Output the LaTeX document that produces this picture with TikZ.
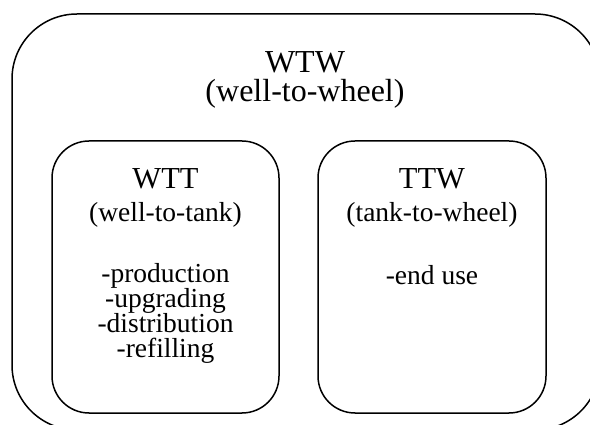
\documentclass[tikz,border=0pt]{standalone}
\usepackage{fontspec}
\setmainfont{Liberation Serif}
\begin{document}
\begin{tikzpicture}[x=1pt,y=-1pt,
  frame/.style={draw=black,line width=1.5pt,rounded corners=65pt},
  box/.style={draw=black,line width=1.5pt,rounded corners=37pt,inner sep=0pt},
  huge/.style={anchor=base,inner sep=0pt,font=\fontsize{32}{38}\selectfont},
  big/.style={anchor=base,inner sep=0pt,font=\fontsize{30.5}{36}\selectfont},
  small/.style={anchor=base,inner sep=0pt,font=\fontsize{27.5}{32}\selectfont}]
\useasboundingbox (0,0) rectangle (590,425);
\begin{scope}
\clip (0,0) rectangle (590,425);
\draw[frame] (12,14) rectangle (600,430);
\end{scope}
\node[box,minimum width=227pt,minimum height=272pt] (wtt) at (165.5,277) {};
\node[box,minimum width=228pt,minimum height=272pt] (ttw) at (432,277) {};
\node[huge] (wtwt) at (305,73) {WTW};
\node[huge] (wtws) at (305,102) {(well-to-wheel)};
\node[big] (wttt) at (165.5,189) {WTT};
\node[small] (wtts) at (165.5,222) {(well-to-tank)};
\node[small] (p1) at (165.5,283) {-production};
\node[small] (p2) at (165.5,308) {-upgrading};
\node[small] (p3) at (165.5,333) {-distribution};
\node[small] (p4) at (165.5,358) {-refilling};
\node[big] (ttwt) at (432,189) {TTW};
\node[small] (ttws) at (432,222) {(tank-to-wheel)};
\node[small] (e1) at (432,285) {-end use};
\end{tikzpicture}
\end{document}
